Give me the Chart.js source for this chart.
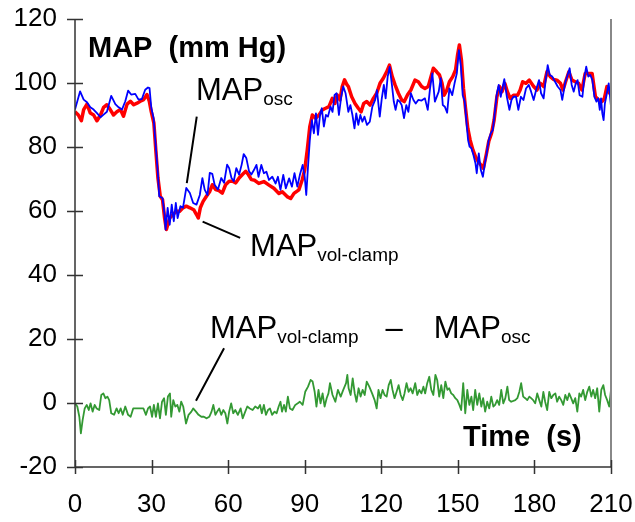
<!DOCTYPE html>
<html>
<head>
<meta charset="utf-8">
<script src="https://cdn.jsdelivr.net/npm/chart.js@4"></script>
<style>
  html, body { margin: 0; padding: 0; background: #fff; }
  #wrap { width: 635px; height: 522px; }
</style>
</head>
<body>
<div id="wrap"><canvas id="mapChart" width="635" height="522"></canvas></div>
<script>
// time (s) and MAP values
const blueTime = [0, 2, 3.4, 4.7, 6, 7.3, 8.6, 10, 11.2, 12.5, 14.2, 15.8, 17.1, 18.4, 19.7, 20.8, 22, 23.6, 24.9, 26.2, 27.5, 28.6, 29.2, 29.9, 30.8, 31.7, 32.5, 33, 34.3, 35.1, 35.5, 36.3, 37.1, 37.9, 38.7, 39.5, 40.2, 41.3, 42.3, 43.6, 45, 46.3, 47.6, 48.9, 49.9, 50.8, 51.9, 52.8, 53.8, 54.7, 56, 57.3, 58.4, 59.6, 60.4, 61.3, 62.2, 63.2, 64.3, 65.3, 66.1, 67.1, 68.2, 69.1, 70.1, 71.1, 71.9, 73, 74, 75, 76, 77.3, 78.6, 79.5, 80.5, 81.6, 82.6, 83.9, 85, 86, 87.1, 88.1, 89.2, 90, 90.6, 91.3, 92, 92.8, 93.6, 94.4, 95.2, 96, 96.7, 97.5, 98.3, 99.1, 100.1, 100.9, 101.7, 102.5, 103.4, 104.3, 105.1, 106, 107.1, 107.9, 108.7, 109.5, 110.2, 111, 111.8, 112.6, 113.4, 114.4, 115.5, 116.5, 117.6, 118.3, 119.4, 120.2, 121, 121.7, 122.5, 123.3, 124.1, 124.9, 125.6, 126.4, 127.2, 128, 128.9, 129.8, 130.6, 131.6, 132.6, 133.5, 134.5, 135.8, 137.1, 138.2, 139.1, 140, 141, 142.5, 143.3, 144.1, 144.9, 145.8, 146.7, 147.8, 148.7, 149.6, 150.4, 151.2, 151.9, 152.7, 153.3, 154, 154.6, 155.3, 156.1, 156.9, 157.4, 158.2, 159, 159.8, 160.6, 161.3, 162.1, 162.9, 163.7, 164.5, 165.3, 166, 166.8, 167.3, 168.2, 169.2, 170.2, 171, 171.8, 172.8, 173.7, 174.7, 175.7, 176.7, 177.8, 178.7, 179.7, 180.8, 181.8, 182.6, 183.6, 184.4, 185.2, 186, 187, 188.1, 189.1, 190.2, 190.9, 192, 192.8, 193.8, 194.6, 195.4, 196.2, 196.9, 197.7, 198.8, 199.6, 200.3, 201.1, 201.9, 202.7, 203.5, 204.3, 205, 205.6, 206.1, 206.6, 207.1, 207.6, 208.4, 209.1, 209.7, 210];
const blueMap = [91.7, 97.4, 94.8, 94, 92.4, 91.7, 90.6, 89.3, 90.1, 91, 96, 93.4, 92.4, 91.7, 94.3, 97.6, 96.4, 96.6, 94.8, 95, 97.9, 98.6, 98.4, 92.2, 89, 79.7, 71.4, 64.6, 64, 58.9, 54.2, 61, 55.7, 62, 56.8, 62.5, 57.8, 61.5, 61, 67.2, 65.6, 62.5, 62, 65, 70.3, 66.7, 65, 71.9, 71.6, 68.2, 66.7, 70.3, 68.8, 74.5, 73.4, 70.3, 69.3, 73.4, 71.4, 74.5, 77.8, 76.6, 72.4, 71.4, 72.8, 74.4, 70.7, 74.4, 71.8, 72.3, 69.7, 70.7, 68.6, 70.7, 66.6, 71.3, 67.1, 70.2, 67.6, 71.8, 67.6, 71.3, 74.4, 70.7, 65, 73.9, 82.2, 88.4, 84.3, 90.5, 83.8, 90, 92.1, 86.4, 90, 89.5, 92.6, 91, 96.3, 96.8, 90, 95.7, 98.9, 96.8, 91, 93.1, 90, 85.8, 90.5, 86.9, 90, 87.9, 89.5, 86.9, 87.9, 92.6, 94.7, 97.8, 89.5, 95.2, 99.4, 95.2, 102, 105, 99.9, 94.2, 91.6, 94.7, 94.2, 93.1, 89, 93.1, 91, 96.8, 94.7, 93.6, 94.7, 94.5, 95.2, 91.6, 98.3, 103, 94.2, 97.3, 101.5, 93.1, 92.6, 90.7, 98.3, 96.2, 99.9, 103, 110.3, 105.1, 96.2, 94.2, 88.4, 82.2, 80.1, 79.6, 77.5, 74.9, 71.8, 78, 72.8, 70.7, 74.9, 78, 82.2, 84.3, 85.3, 91, 96.8, 99.4, 95.7, 97.8, 101.2, 95.7, 91.6, 94.7, 95.7, 95.7, 91.6, 95.7, 94.7, 98.3, 99.4, 97.3, 94.7, 98.3, 100.9, 96.8, 95.2, 100.9, 105.6, 102.5, 102, 100.4, 98.9, 97.8, 94.7, 99.9, 102, 104.6, 99.4, 97.3, 99.9, 100.9, 96.2, 95.7, 102, 105.1, 102, 102.5, 100.9, 95.7, 94.2, 95.2, 91.6, 95.2, 90.5, 88.4, 93.6, 96.8, 99.9, 95.2, 92.6];

const redTime = [0, 1.3, 2.5, 3.4, 4.7, 6, 7.3, 8.6, 10, 11.2, 12.5, 13.8, 15.1, 16.4, 17.8, 19, 20.4, 21.7, 23, 24.3, 25.6, 26.9, 28.2, 29.1, 29.9, 30.9, 31.7, 32.5, 33.4, 34.3, 35.1, 35.8, 37.1, 38.4, 39.7, 41, 42.3, 43.6, 45, 46.5, 47.6, 48.3, 49.1, 50.2, 51.5, 52.8, 53.8, 55.1, 56.4, 57.7, 59, 60.4, 61.7, 63, 64.3, 65.6, 66.9, 67.9, 69.1, 70.4, 72, 74, 76, 77.9, 79.9, 81.2, 83.1, 84.5, 85.8, 87.7, 89, 90, 91, 92, 93, 94.3, 95.6, 96.9, 98.2, 99.5, 100.8, 101.8, 102.7, 103.8, 104.7, 105.6, 106.6, 107.1, 108.4, 109.7, 111, 112.1, 113.1, 114.3, 115.6, 116.9, 118.2, 119.5, 120.8, 122.1, 123.2, 124.3, 125.4, 126.7, 128, 129, 130.3, 131.6, 133.2, 134.5, 135.8, 137.1, 138.4, 139.5, 140.4, 141.7, 142.8, 143.8, 144.6, 145.7, 146.7, 148, 149.1, 149.9, 150.6, 151.4, 152.2, 153, 153.9, 154.8, 155.9, 156.9, 158, 159, 160, 161.1, 162.1, 163.2, 164.2, 165.3, 166.3, 167.3, 168.4, 169.4, 170.5, 171.8, 173.4, 174.4, 175.4, 176.7, 178, 179.7, 181, 182.3, 183.6, 184.9, 186.2, 187.5, 188.8, 190.2, 191.2, 192.2, 193.5, 194.7, 196, 197.3, 198.6, 199.9, 201.3, 202.6, 203.9, 205.2, 206.5, 207.4, 208.4, 209.5, 210];
const redMap = [91, 90, 88.2, 91.7, 93.4, 90.6, 90, 88.2, 90, 92.4, 93.2, 91.7, 90, 91, 91.7, 89.6, 93.4, 94.3, 93.2, 93.7, 94.3, 94.8, 96.4, 94.3, 91, 87.5, 78.6, 70.3, 64.6, 63.5, 57.8, 54.2, 57.8, 58.9, 59.9, 59.9, 61, 61.5, 61, 60.4, 58.9, 57.8, 61, 63, 64.6, 66.1, 68.2, 66.7, 66.4, 65.6, 68.2, 69.3, 69.3, 68.8, 70.3, 71.4, 72.4, 71.4, 69.8, 69.6, 68.6, 69.2, 68.1, 67.1, 65.5, 66, 64.5, 63.9, 65.5, 66.6, 69.7, 72.8, 79.1, 86.4, 90, 89, 90, 91.6, 92.1, 92.6, 95.2, 93.6, 96.3, 94.7, 98.9, 101, 99.4, 98.9, 95.7, 93.6, 92.1, 91, 93.6, 94.2, 93.1, 95.2, 96.8, 99.9, 101.5, 103.5, 105.6, 102, 99.4, 96.8, 94.7, 94.2, 96.3, 97.8, 100.9, 100.4, 98.9, 98.3, 98.9, 102, 104.6, 103.5, 102.5, 99.9, 96.2, 97.8, 100.4, 102, 104.1, 108.8, 111.9, 107.2, 98.3, 92.1, 85.8, 82.2, 79.1, 77, 75.4, 74.4, 73.3, 77.5, 81.7, 84.3, 88.4, 95.7, 98.9, 97.3, 99.9, 97.3, 95.2, 96.2, 96.2, 97.8, 100.4, 99.9, 100.9, 98.9, 97.8, 99.9, 98.9, 103.5, 102, 101.1, 100.9, 99.9, 97.8, 100.4, 103.5, 100.9, 100.4, 99.9, 97.8, 103, 103, 103, 95.7, 94.7, 94.2, 95.2, 98.9, 96.8, 97];

const diffTime = [0, 0.9, 1.7, 2.3, 3, 3.8, 4.6, 5.4, 6.1, 6.9, 7.7, 8.5, 9.5, 10.3, 11.1, 11.9, 12.7, 13.4, 14.2, 15.3, 16.3, 17.1, 17.9, 18.7, 19.7, 20.8, 21.8, 22.8, 26.8, 27.8, 28.6, 29.4, 30.2, 30.9, 31.7, 32.5, 33.3, 34.1, 34.9, 35.6, 36.4, 37.2, 37.7, 38.5, 39.3, 40.1, 40.9, 41.6, 42.4, 43.5, 44.5, 45.6, 46.3, 47.4, 48.4, 49.5, 50.5, 51.6, 52.6, 53.5, 54.2, 55, 55.7, 56.5, 57.3, 58.1, 58.9, 59.7, 60.4, 61.2, 62, 62.8, 63.8, 64.9, 65.7, 66.7, 67.5, 68.5, 69.6, 70.6, 71.7, 72.5, 73.2, 74, 74.8, 75.6, 76.4, 77.2, 78.2, 79, 79.8, 80.5, 81.1, 81.9, 82.6, 83.4, 84.2, 85.2, 86.3, 87.3, 88.1, 89.2, 90.2, 91.3, 92.3, 93.1, 93.9, 94.6, 95.4, 96.2, 97, 97.8, 98.6, 99.3, 99.9, 100.9, 102, 103, 104.1, 105.1, 106.2, 106.7, 107.2, 108, 108.8, 109.6, 110.3, 111.1, 111.9, 112.7, 113.5, 114.3, 115.3, 116.4, 117.4, 118.2, 118.9, 119.7, 120.5, 121.3, 122.1, 122.9, 123.7, 124.4, 125.2, 126, 126.8, 127.6, 128.4, 129.1, 129.9, 130.7, 131.5, 132.3, 133.3, 134.1, 134.9, 135.7, 136.5, 137.2, 138, 138.8, 139.6, 140.4, 141.2, 141.9, 142.7, 143.5, 144.3, 145.1, 145.9, 146.6, 147.4, 148.2, 149, 149.8, 150.6, 151.3, 152.1, 152.9, 153.7, 154.5, 155.3, 156, 156.8, 157.6, 158.4, 159.2, 159.9, 160.7, 161.5, 162.3, 163.1, 163.9, 164.6, 165.4, 166.2, 167, 167.8, 168.6, 169.4, 170.1, 170.9, 172.5, 173.3, 174.1, 174.8, 175.6, 176.4, 177.2, 178, 178.7, 179.5, 180.3, 181.1, 181.9, 182.7, 183.5, 184.2, 185, 185.8, 186.6, 187.4, 188.2, 188.9, 189.7, 190.5, 191.3, 192.1, 192.9, 193.6, 194.4, 195.2, 196, 196.8, 197.6, 198.3, 199.1, 199.9, 200.7, 201.5, 202.3, 203, 203.8, 204.6, 205.4, 206.2, 207, 207.7, 208.5, 209.3, 210];
const diffVal = [-0.1, -1.1, -4.3, -9.5, -5.3, -1.7, -0.6, -2.2, -0.1, -2.7, -0.6, -1.7, -2.2, 2.5, 3, 1.5, 2, 0.9, -3.2, -3.7, -1.7, -3.2, -1.7, -3.7, -1.1, -3.7, -4.3, -1.7, -1.7, -3.7, -1.7, -1.1, -4.3, -0.6, -4.3, -0.1, -4.8, 0.4, 1.5, -3.7, 2, 3, -4.3, 0.9, -1.1, -0.6, -2.7, 0.4, -1.1, -6.4, -3.7, -2.7, -1.7, -2.7, -3.7, -4.3, -4.3, -4.8, -4.3, -2.7, -0.6, -3.7, -2.7, -1.7, -3.7, -2.2, -3.2, -6.4, -2.7, -0.1, -3.2, -2.2, -3.7, -1.7, -4.8, -2.7, -1.1, -1.7, -2.2, -1.1, -1.7, -0.6, -3.2, -0.6, -3.7, -2.2, -1.7, -3.7, -2.7, -3.2, -1.1, 0.4, -2.7, -0.6, -2.7, 2, -1.7, -2.2, -0.6, -0.1, 0.4, -0.6, 3.5, 5.1, 7.2, 6.7, 3.5, -1.1, 4.1, -0.1, 3, -1.1, 1.5, 3, 6.2, 2.5, 0.4, 4.1, 2, 4.1, 6.2, 8.8, 4.6, 2.5, 7.7, 3, 0.4, 4.6, 2, 4.1, 2.5, 6.7, 5.1, 3, 0.9, -1.7, 4.1, 1.5, 4.1, 2.5, 2, 5.6, 7.2, 4.1, 1.5, 3.5, 5.6, 2.5, 0.9, 3, 6.2, 3.5, 4.6, 3, 6.2, 2.5, 4.1, 3, 5.1, 3, 6.2, 8.2, 4.1, 2.5, 8.8, 7.2, 2, 5.6, 1.5, 6.7, 4.1, 4.6, 3, 2.5, 1.5, 0.9, -0.6, -2.2, 6.2, -3.2, 4.1, -0.6, 2, -2.2, 4.1, -0.6, 3, -1.1, 1.5, -2.7, 0.4, -1.7, 2, -1.1, -0.6, 0.9, -0.6, 4.1, -0.1, 1.5, 5.1, 0.9, 0.4, 0.9, 1.5, 3.5, 6.2, 2, 1.5, 0.9, 2, 1.5, 0.9, -0.1, 3, 0.9, -1.1, 3.5, 0.4, -2.2, 3.5, 1.5, 2.5, 3, 0.4, 2, 0.9, -0.6, 2.5, 0.9, 3, 1.5, -0.1, 1.5, -2.7, 3, 2, 4.1, 0.9, 3.5, 5.1, 2, 4.1, 1.5, 4.6, -2.7, 4.1, 5.6, 2.5, 0.9, -1.1, 4.1];

const xTicks = [0, 30, 60, 90, 120, 150, 180, 210];
const yTicks = [-20, 0, 20, 40, 60, 80, 100, 120];

function toPoints(ts, vs) {
    return ts.map((t, i) => ({ x: t, y: vs[i] }));
}

const FONT = '"Liberation Sans", Arial, sans-serif';

// text label with an optional subscript part
function labelWithSub(ctx, x, y, parts) {
    let px = x;
    parts.forEach(p => {
        ctx.font = (p.bold ? 'bold ' : '') + p.size + 'px ' + FONT;
        ctx.fillText(p.text, px, y + (p.sub ? 5 : 0));
        px += ctx.measureText(p.text).width + (p.gap || 0);
    });
}

const frameAndNotes = {
    id: 'frameAndNotes',
    afterDatasetsDraw(chart) {
        const { ctx, chartArea: a, scales: { x, y } } = chart;
        ctx.save();

        // right frame
        ctx.strokeStyle = '#888888';
        ctx.lineWidth = 2;
        ctx.beginPath();
        ctx.moveTo(a.right, a.top);
        ctx.lineTo(a.right, a.bottom);
        ctx.stroke();

        // axes with ticks crossing the line
        ctx.strokeStyle = '#333333';
        ctx.lineWidth = 1.5;
        ctx.beginPath();
        ctx.moveTo(a.left, a.top);
        ctx.lineTo(a.left, a.bottom);
        ctx.lineTo(a.right, a.bottom);
        yTicks.forEach(v => {
            const py = Math.round(y.getPixelForValue(v)) + 0.5;
            ctx.moveTo(a.left - 8, py);
            ctx.lineTo(a.left + 8, py);
        });
        xTicks.forEach(v => {
            const px = Math.round(x.getPixelForValue(v)) + 0.5;
            ctx.moveTo(px, a.bottom - 7);
            ctx.lineTo(px, a.bottom + 7);
        });
        ctx.stroke();

        // leader lines
        ctx.strokeStyle = '#000';
        ctx.lineWidth = 2;
        const leaders = [[47.7, 89.5, 43.8, 68.7], [50.0, 56.7, 64.7, 51.6], [58.4, 17.1, 47.4, 0.7]];
        ctx.beginPath();
        leaders.forEach(l => {
            ctx.moveTo(x.getPixelForValue(l[0]), y.getPixelForValue(l[1]));
            ctx.lineTo(x.getPixelForValue(l[2]), y.getPixelForValue(l[3]));
        });
        ctx.stroke();

        // labels
        ctx.fillStyle = '#000';
        ctx.textBaseline = 'alphabetic';
        ctx.textAlign = 'left';
        labelWithSub(ctx, x.getPixelForValue(5.1), y.getPixelForValue(108.1),
            [{ text: 'MAP  (mm Hg)', size: 29, bold: true }]);
        labelWithSub(ctx, x.getPixelForValue(47.4), y.getPixelForValue(94.7),
            [{ text: 'MAP', size: 31 }, { text: 'osc', size: 19, sub: true }]);
        labelWithSub(ctx, x.getPixelForValue(68.6), y.getPixelForValue(45.9),
            [{ text: 'MAP', size: 31 }, { text: 'vol-clamp', size: 19, sub: true }]);
        labelWithSub(ctx, x.getPixelForValue(52.9), y.getPixelForValue(20.3),
            [{ text: 'MAP', size: 31 }, { text: 'vol-clamp', size: 19, sub: true, gap: 27 },
             { text: '\u2013', size: 31, gap: 31 }, { text: 'MAP', size: 31 }, { text: 'osc', size: 19, sub: true }]);
        labelWithSub(ctx, x.getPixelForValue(152), y.getPixelForValue(-13.4),
            [{ text: 'Time  (s)', size: 29, bold: true }]);
        ctx.restore();
    }
};

const ctxMap = document.getElementById('mapChart').getContext('2d');
new Chart(ctxMap, {
    type: 'line',
    data: {
        datasets: [
            { label: 'MAPosc', data: toPoints(blueTime, blueMap), borderColor: '#0000ff', borderWidth: 1.8 },
            { label: 'MAPvol-clamp', data: toPoints(redTime, redMap), borderColor: '#ff0000', borderWidth: 3.5 },
            { label: 'MAPvol-clamp - MAPosc', data: toPoints(diffTime, diffVal), borderColor: '#339933', borderWidth: 1.8 }
        ]
    },
    options: {
        responsive: false,
        animation: false,
        devicePixelRatio: 1,
        layout: { padding: { top: 19, right: 24, left: 0, bottom: 0 } },
        elements: { point: { radius: 0 }, line: { tension: 0, borderJoinStyle: 'round' } },
        plugins: { legend: { display: false }, tooltip: { enabled: false } },
        scales: {
            x: {
                type: 'linear',
                min: 0,
                max: 210,
                afterBuildTicks: s => { s.ticks = xTicks.map(v => ({ value: v })); },
                afterFit: s => { s.height = 55; s.paddingLeft = 0; s.paddingRight = 0; },
                grid: { display: false },
                border: { display: false },
                ticks: { padding: 14, color: '#000', font: { family: FONT, size: 26 } }
            },
            y: {
                min: -20,
                max: 120,
                afterBuildTicks: s => { s.ticks = yTicks.map(v => ({ value: v })); },
                afterFit: s => { s.width = 75; s.paddingTop = 0; s.paddingBottom = 0; },
                grid: { display: false },
                border: { display: false },
                ticks: { padding: 10, color: '#000', font: { family: FONT, size: 26 } }
            }
        }
    },
    plugins: [frameAndNotes]
});
</script>
</body>
</html>
